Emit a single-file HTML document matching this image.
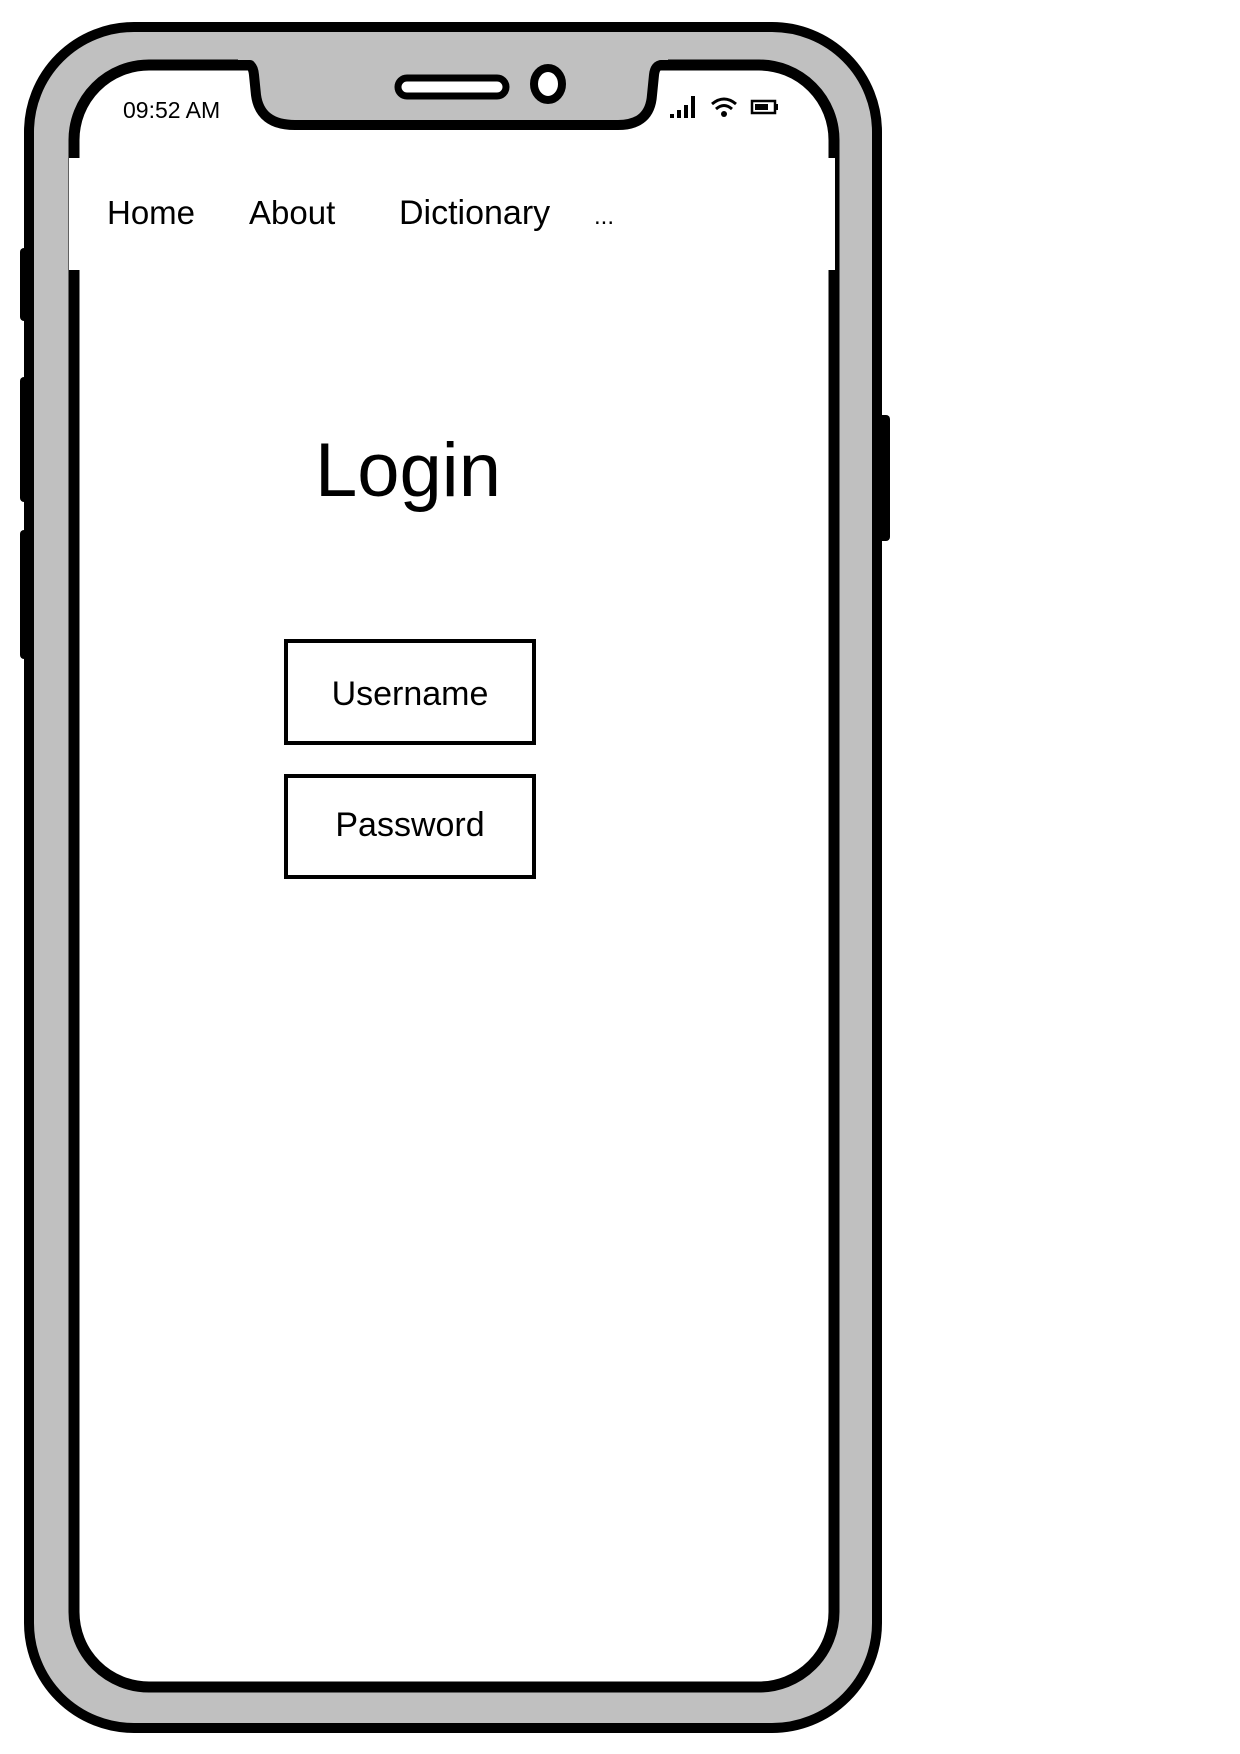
<!DOCTYPE html>
<html><head><meta charset="utf-8"><style>
html,body{margin:0;padding:0;background:#fff;}
svg{display:block;}
text{font-family:"Liberation Sans",sans-serif;fill:#000;}
</style></head><body>
<svg width="1240" height="1754" viewBox="0 0 1240 1754" xmlns="http://www.w3.org/2000/svg">
<rect x="20" y="248" width="12" height="73" rx="4" fill="#000"/>
<rect x="20" y="377" width="12" height="125" rx="4" fill="#000"/>
<rect x="20" y="530" width="12" height="129" rx="4" fill="#000"/>
<rect x="877" y="415" width="13" height="126" rx="4" fill="#000"/>
<rect x="29" y="27" width="848" height="1701" rx="105" ry="105" fill="#c0c0c0" stroke="#000" stroke-width="10"/>
<rect x="74" y="65" width="760" height="1622" rx="75" ry="75" fill="#fff" stroke="#000" stroke-width="11"/>
<path d="M238,60 L250,60 Q256,60 256,70 L258,95 Q262,125 295,125 L618,125 Q650,125 652,95 L654,70 Q654,60 662,60 L668,60 L668,55 L238,55 Z" fill="#c0c0c0"/>
<path d="M238,65 L248,65 Q253,65 254,75 L256,95 Q260,125 295,125 L618,125 Q650,125 652,95 L654,75 Q655,65 662,65 L670,65" fill="none" stroke="#000" stroke-width="10"/>
<rect x="398" y="78" width="108" height="18" rx="9" fill="#fff" stroke="#000" stroke-width="7"/>
<ellipse cx="548" cy="84" rx="14" ry="16" fill="#fff" stroke="#000" stroke-width="8"/>
<rect x="69" y="158" width="766" height="112" fill="#fff"/>
<text x="123" y="118" font-size="23">09:52 AM</text>
<g fill="#000">
<rect x="670" y="114" width="4" height="4"/>
<rect x="677" y="110" width="4" height="8"/>
<rect x="684" y="105" width="4" height="13"/>
<rect x="691" y="96" width="4" height="22"/>
</g>
<g fill="none" stroke="#000" stroke-width="3">
<path d="M712,104 Q724,94 736,104"/>
<path d="M716,109 Q724,102 732,109"/>
</g>
<circle cx="724" cy="114" r="3" fill="#000"/>
<rect x="752" y="101" width="23" height="12" fill="none" stroke="#000" stroke-width="2.5"/>
<rect x="755" y="104" width="13" height="6" fill="#000"/>
<rect x="775" y="104" width="3" height="6" fill="#000"/>
<text x="107" y="224" font-size="33">Home</text>
<text x="249" y="224" font-size="33">About</text>
<text x="399" y="224" font-size="34">Dictionary</text>
<text x="594" y="224" font-size="24">...</text>
<text x="315" y="496" font-size="76">Login</text>
<rect x="286" y="641" width="248" height="102" fill="#fff" stroke="#000" stroke-width="4"/>
<text x="410" y="705" font-size="34" text-anchor="middle">Username</text>
<rect x="286" y="776" width="248" height="101" fill="#fff" stroke="#000" stroke-width="4"/>
<text x="410" y="836" font-size="34" text-anchor="middle">Password</text>
</svg>
</body></html>
